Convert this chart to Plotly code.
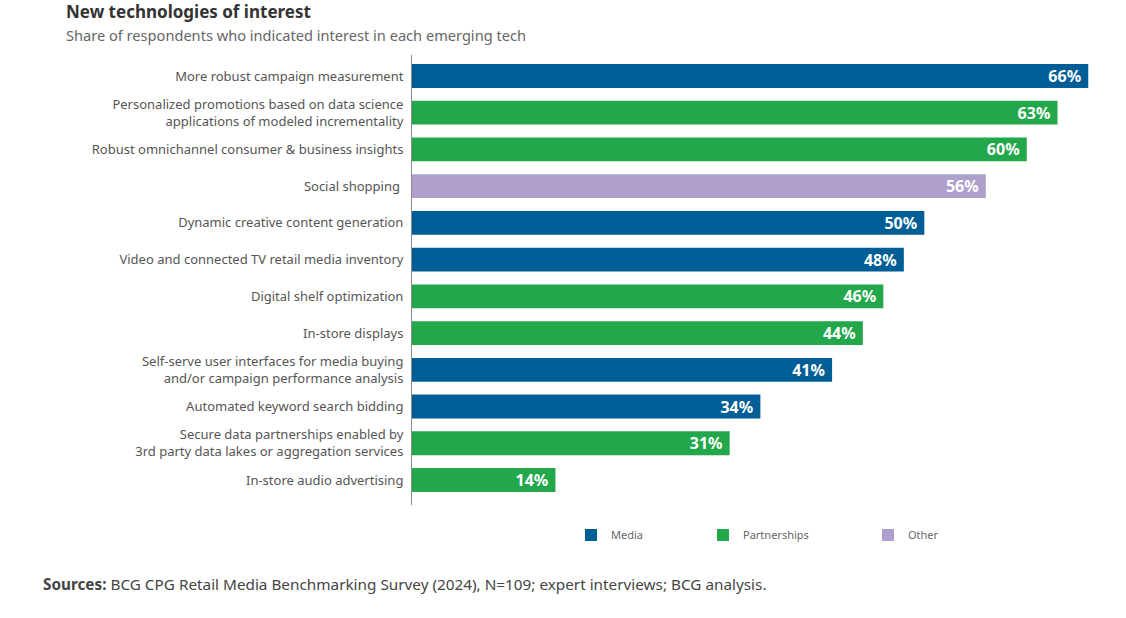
import plotly.graph_objects as go

categories = [
    "More robust campaign measurement",
    "Personalized promotions based on data science<br>applications of modeled incrementality",
    "Robust omnichannel consumer & business insights",
    "Social shopping ",
    "Dynamic creative content generation",
    "Video and connected TV retail media inventory",
    "Digital shelf optimization",
    "In-store displays",
    "Self-serve user interfaces for media buying<br>and/or campaign performance analysis",
    "Automated keyword search bidding",
    "Secure data partnerships enabled by<br>3rd party data lakes or aggregation services",
    "In-store audio advertising",
]
values = [66, 63, 60, 56, 50, 48, 46, 44, 41, 34, 31, 14]
groups = ["Media", "Partnerships", "Partnerships", "Other", "Media", "Media",
          "Partnerships", "Partnerships", "Media", "Media", "Partnerships", "Partnerships"]

group_names = ["Media", "Partnerships", "Other"]
group_colors = {"Media": "#005E96", "Partnerships": "#22A84B", "Other": "#AF9FCD"}
legend_ids = {"Media": "legend", "Partnerships": "legend2", "Other": "legend3"}
legend_x = {"Media": 571, "Partnerships": 703, "Other": 868}

FONT = "Noto Sans"
W, H = 1126, 618
ML, MR, MT, MB = 412, 7, 55, 113
PW, PH = W - ML - MR, H - MT - MB


def px_x(px):
    return (px - ML) / PW


def px_y(py):
    return (H - MB - py) / PH


fig = go.Figure()
for g in group_names:
    ys = [c for c, gg in zip(categories, groups) if gg == g]
    xs = [v for v, gg in zip(values, groups) if gg == g]
    fig.add_trace(go.Bar(
        y=ys, x=xs, name=g, orientation="h",
        marker=dict(color=group_colors[g], line=dict(width=0)),
        width=0.65,
        texttemplate="<b>%{x}%</b>\u00a0",
        textposition="inside", insidetextanchor="end",
        constraintext="none",
        textfont=dict(color="white", size=16, family=FONT),
        legend=legend_ids[g],
        hoverinfo="skip",
    ))

layout_legends = {}
for g in group_names:
    layout_legends[legend_ids[g]] = dict(
        x=legend_x[g] / W, xref="container", xanchor="left",
        y=1 - 535 / H, yref="container", yanchor="middle",
        orientation="h", font=dict(size=11, color="#666666", family=FONT),
        bgcolor="rgba(0,0,0,0)", borderwidth=0,
    )

fig.update_layout(
    width=W, height=H,
    margin=dict(l=ML, r=MR, t=MT, b=MB),
    paper_bgcolor="white", plot_bgcolor="white",
    barmode="overlay",
    showlegend=True,
    font=dict(family=FONT, color="#555555"),
    xaxis=dict(range=[0, 69], showgrid=False, zeroline=False, showticklabels=False,
               showline=False, fixedrange=True),
    yaxis=dict(categoryorder="array", categoryarray=categories, autorange=False,
               range=[11.68, -0.57], showgrid=False, zeroline=False,
               showline=True, linecolor="#8c8c8c", linewidth=1,
               ticks="outside", ticklen=5, tickcolor="rgba(0,0,0,0)",
               tickfont=dict(size=13, color="#555555", family=FONT)),
    **layout_legends,
)

fig.add_annotation(text="<b>New technologies of interest</b>", xref="paper", yref="paper",
                   x=px_x(64), y=px_y(12), showarrow=False, xanchor="left", yanchor="middle",
                   font=dict(size=17, color="#333333", family=FONT))
fig.add_annotation(text="Share of respondents who indicated interest in each emerging tech",
                   xref="paper", yref="paper",
                   x=px_x(64), y=px_y(35), showarrow=False, xanchor="left", yanchor="middle",
                   font=dict(size=14.6, color="#666666", family=FONT))
fig.add_annotation(text="<b>Sources:</b> BCG CPG Retail Media Benchmarking Survey (2024), N=109; expert interviews; BCG analysis.",
                   xref="paper", yref="paper",
                   x=px_x(41), y=px_y(584), showarrow=False, xanchor="left", yanchor="middle",
                   font=dict(size=15.3, color="#444444", family=FONT))

fig.write_html("out.html")
